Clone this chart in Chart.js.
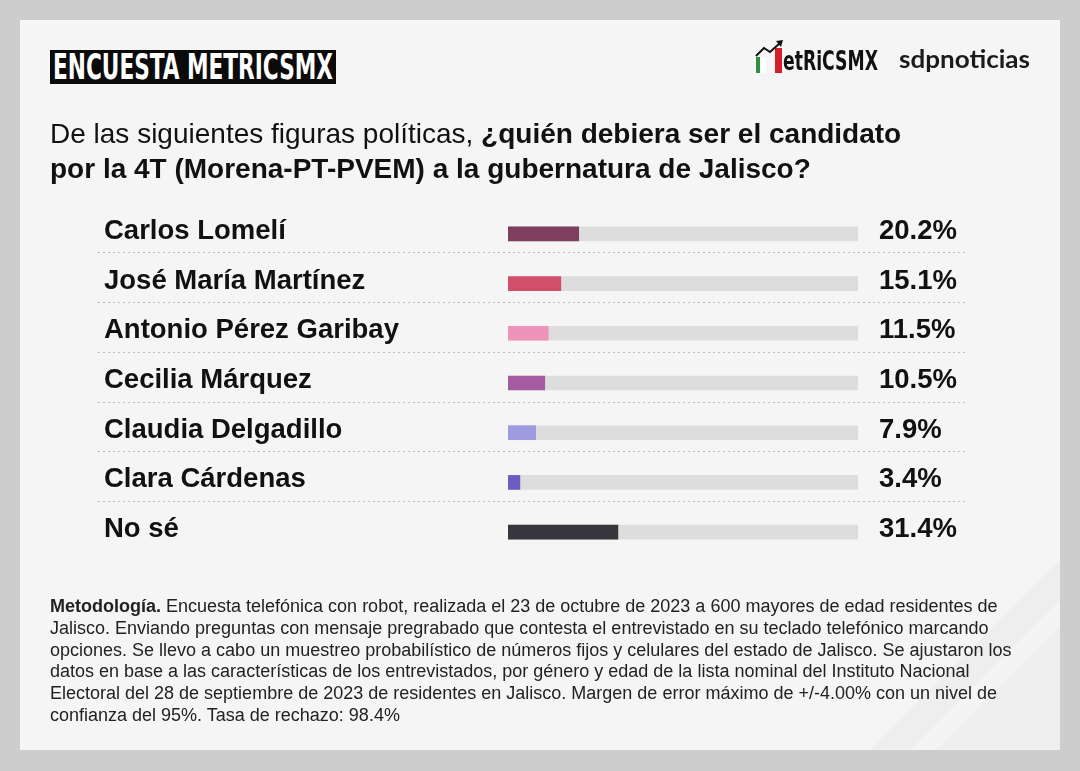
<!DOCTYPE html>
<html>
<head>
<meta charset="utf-8">
<script src="https://cdn.jsdelivr.net/npm/chart.js@4.4.1/dist/chart.umd.min.js"></script>
<style>
  html, body { margin:0; padding:0; width:1080px; height:771px; overflow:hidden; background:#cdcdcd; }
  #card { position:absolute; left:20px; top:20px; width:1040px; height:730px; background:#f5f5f5; overflow:hidden; }
  .deco { position:absolute; left:0; top:0; width:1040px; height:730px; }
  #chartWrap { position:absolute; left:0; top:0; width:1080px; height:771px; z-index:2; }
  .txt { position:absolute; z-index:3; font-family:"Liberation Sans", Arial, sans-serif; white-space:nowrap; }
  #hdrBox { position:absolute; left:50px; top:50px; width:286px; height:34px; background:#0b0b0b; z-index:3; overflow:hidden; }
  #hdrTxt { position:absolute; left:3px; top:-3px; color:#fff; font-family:"Liberation Sans Narrow","DejaVu Sans Condensed",sans-serif; font-weight:bold; font-size:36px; line-height:40px; transform-origin:0 0; white-space:nowrap; }
  #question { left:50px; top:116px; font-size:28px; line-height:35px; color:#111; }
  #question b { font-weight:bold; }
  #method { left:50px; top:596px; font-size:18px; line-height:21.8px; color:#222; }
  #logoTxt { position:absolute; left:783px; top:46px; font-family:"DejaVu Sans Condensed","Liberation Sans Narrow",sans-serif; font-weight:bold; font-size:26px; line-height:30px; color:#111; transform-origin:0 0; z-index:3; white-space:nowrap; }
  #sdp { position:absolute; left:899px; top:44px; font-family:"Lato","Open Sans",sans-serif; font-weight:700; font-size:24px; line-height:30px; color:#1b1b1b; transform-origin:0 0; z-index:3; white-space:nowrap; }
  .bar { position:absolute; z-index:3; }
</style>
</head>
<body>
<div id="card">
  <div class="deco" style="background:#eeeeee; clip-path:polygon(1040px 540px, 1040px 730px, 850px 730px);"></div>
  <div class="deco" style="background:#f4f4f4; clip-path:polygon(1040px 580px, 1040px 606px, 916px 730px, 890px 730px);"></div>
</div>

<div id="hdrBox"><span id="hdrTxt" data-w="280">ENCUESTA METRICSMX</span></div>

<!-- metricsmx logo -->
<div class="bar" style="left:756px; top:57px; width:4px; height:16px; background:#2f8f3e;"></div>
<div class="bar" style="left:761px; top:57px; width:5px; height:16px; background:#ffffff;"></div>
<div class="bar" style="left:775px; top:48px; width:7px; height:25px; background:#d2202a;"></div>
<svg class="bar" style="left:754px; top:38px;" width="32" height="22" viewBox="0 0 32 22">
  <polyline points="2,18 10,10 16,14 26,5" fill="none" stroke="#111" stroke-width="2"/>
  <polygon points="22,3 29,2 27,9" fill="#111"/>
</svg>
<span id="logoTxt" data-w="95">etRiCSMX</span>
<span id="sdp" data-w="131">sdpnoticias</span>

<div id="question" class="txt">De las siguientes figuras políticas, <b>¿quién debiera ser el candidato</b><br><b>por la 4T (Morena-PT-PVEM) a la gubernatura de Jalisco?</b></div>

<div id="method" class="txt"><b>Metodología.</b> Encuesta telefónica con robot, realizada el 23 de octubre de 2023 a 600 mayores de edad residentes de<br>Jalisco. Enviando preguntas con mensaje pregrabado que contesta el entrevistado en su teclado telefónico marcando<br>opciones. Se llevo a cabo un muestreo probabilístico de números fijos y celulares del estado de Jalisco. Se ajustaron los<br>datos en base a las características de los entrevistados, por género y edad de la lista nominal del Instituto Nacional<br>Electoral del 28 de septiembre de 2023 de residentes en Jalisco. Margen de error máximo de +/-4.00% con un nivel de<br>confianza del 95%. Tasa de rechazo: 98.4%</div>

<div id="chartWrap"><canvas id="c"></canvas></div>

<script>
// ---- data ----
const categories = ["Carlos Lomelí", "José María Martínez", "Antonio Pérez Garibay", "Cecilia Márquez", "Claudia Delgadillo", "Clara Cárdenas", "No sé"];
const values = [20.2, 15.1, 11.5, 10.5, 7.9, 3.4, 31.4];
const valueLabels = ["20.2%", "15.1%", "11.5%", "10.5%", "7.9%", "3.4%", "31.4%"];
const barColors = ["#7e3f5e", "#d14f6b", "#ee93b9", "#a55b9f", "#9e9bde", "#6a5cc0", "#38363d"];
const trackValues = [100, 100, 100, 100, 100, 100, 100];

// fit condensed texts to width
document.querySelectorAll('[data-w]').forEach(el => {
  const target = parseFloat(el.getAttribute('data-w'));
  const w = el.getBoundingClientRect().width;
  if (w > 0) el.style.transform = 'scaleX(' + (target / w) + ')';
});

const labelPlugin = {
  id: 'rowLabels',
  afterDatasetsDraw(chart) {
    const ctx = chart.ctx;
    const y = chart.scales.y;
    ctx.save();
    // separators
    ctx.strokeStyle = '#bcbcbc';
    ctx.lineWidth = 1;
    ctx.setLineDash([2, 3]);
    for (let i = 0; i < categories.length - 1; i++) {
      const yy = Math.round(y.getPixelForValue(i) + 18.5) + 0.5;
      ctx.beginPath();
      ctx.moveTo(98, yy);
      ctx.lineTo(968, yy);
      ctx.stroke();
    }
    ctx.setLineDash([]);
    ctx.fillStyle = '#111';
    ctx.textBaseline = 'alphabetic';
    ctx.font = 'bold 27.5px "Liberation Sans", Arial, sans-serif';
    categories.forEach((c, i) => {
      const cy = y.getPixelForValue(i);
      ctx.textAlign = 'left';
      ctx.fillText(c, 104, cy + 5);
      ctx.fillText(valueLabels[i], 879, cy + 5);
    });
    ctx.restore();
  }
};

new Chart(document.getElementById('c'), {
  type: 'bar',
  data: {
    labels: categories,
    datasets: [
      { data: values, backgroundColor: barColors, barThickness: 14, grouped: false, borderWidth: 0 },
      { data: trackValues, backgroundColor: '#dddddd', barThickness: 14, grouped: false, borderWidth: 0 }
    ]
  },
  options: {
    indexAxis: 'y',
    responsive: true,
    maintainAspectRatio: false,
    animation: false,
    layout: { padding: { left: 508, right: 222, top: 209, bottom: 214 } },
    scales: {
      x: { display: false, min: 0, max: 100 },
      y: { display: false }
    },
    plugins: { legend: { display: false }, tooltip: { enabled: false } }
  },
  plugins: [labelPlugin]
});
</script>
</body>
</html>
